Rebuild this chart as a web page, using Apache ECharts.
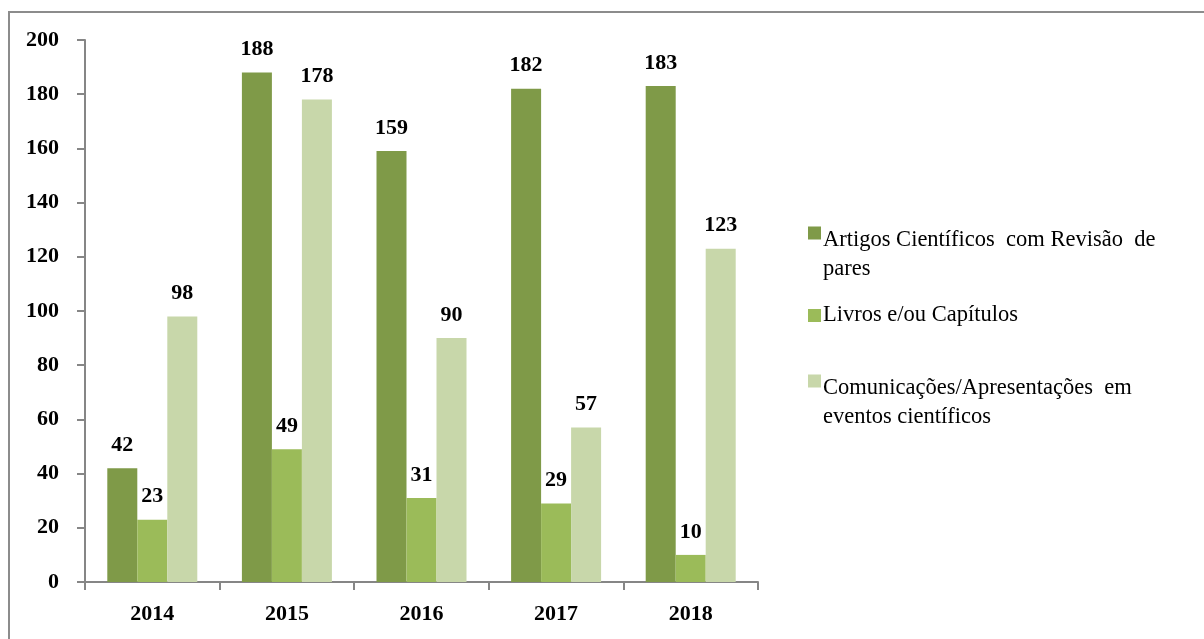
<!DOCTYPE html>
<html>
<head>
<meta charset="utf-8">
<script src="https://cdn.jsdelivr.net/npm/echarts@6/dist/echarts.min.js"></script>
<style>
 html, body { margin: 0; padding: 0; background: #fff; }
 #chart { width: 1204px; height: 639px; }
</style>
</head>
<body>
<div id="chart"></div>
<script>
// Data
const years = ['2014', '2015', '2016', '2017', '2018'];
const artigos = [42, 188, 159, 182, 183];
const livros = [23, 49, 31, 29, 10];
const comunicacoes = [98, 178, 90, 57, 123];
const seriesNames = [
 'Artigos Científicos com Revisão de pares',
 'Livros e/ou Capítulos',
 'Comunicações/Apresentações em eventos científicos',
];
const legendLabels = [
 'Artigos Científicos  com Revisão  de\npares',
 'Livros e/ou Capítulos',
 'Comunicações/Apresentações  em\neventos científicos',
];
const colors = ['#7f9a48', '#9bbb59', '#c8d7aa'];

const FONT = '"Liberation Serif", "DejaVu Serif", serif';

const chart = echarts.init(document.getElementById('chart'), null, { renderer: 'canvas' });

// marker sits on the first text line of a two-line legend entry
const topSquare = 'path://M0,0h10v10h-10z M0,44h0.01v0.01h-0.01z';

const makeLegend = (idx, top, twoLines) => ({
 left: 803,
 top,
 orient: 'vertical',
 data: [{ name: seriesNames[idx], icon: twoLines ? topSquare : 'rect' }],
 itemWidth: 13,
 itemHeight: twoLines ? 57.2 : 13,
 itemGap: 0,
 selectedMode: false,
 formatter: () => legendLabels[idx],
 textStyle: { fontFamily: FONT, fontSize: 22.5, color: '#000', lineHeight: 29, padding: [0, 0, 0, -3] },
});

const makeSeries = (idx, data) => ({
 name: seriesNames[idx],
 type: 'bar',
 data,
 barWidth: 30,
 barGap: '0%',
 itemStyle: { color: colors[idx] },
 label: {
 show: true,
 position: 'top',
 distance: 12,
 fontFamily: FONT,
 fontSize: 22,
 fontWeight: 'bold',
 color: '#000',
 },
});

chart.setOption({
 backgroundColor: '#fff',
 animation: false,
 graphic: [{
 type: 'rect',
 shape: { x: 9, y: 12, width: 1210, height: 700 },
 style: { fill: 'none', stroke: '#8c8c8c', lineWidth: 2 },
 silent: true,
 }],
 legend: [
 makeLegend(0, 221, true),
 makeLegend(1, 296, false),
 makeLegend(2, 369, true),
 ],
 grid: { left: 85, right: 446, top: 40, bottom: 57, containLabel: false },
 xAxis: {
 type: 'category',
 data: years,
 axisLine: { lineStyle: { color: '#868686', width: 2 } },
 axisTick: { show: true, length: 8, lineStyle: { color: '#868686', width: 2 } },
 axisLabel: { margin: 21, fontFamily: FONT, fontSize: 22, fontWeight: 'bold', color: '#000' },
 },
 yAxis: {
 type: 'value',
 min: 0,
 max: 200,
 interval: 20,
 axisLine: { show: true, lineStyle: { color: '#868686', width: 2 } },
 axisTick: { show: true, length: 8, lineStyle: { color: '#868686', width: 2 } },
 splitLine: { show: false },
 axisLabel: { margin: 26, fontFamily: FONT, fontSize: 22, fontWeight: 'bold', color: '#000' },
 },
 series: [
 makeSeries(0, artigos),
 makeSeries(1, livros),
 makeSeries(2, comunicacoes),
 ],
});
</script>
</body>
</html>
